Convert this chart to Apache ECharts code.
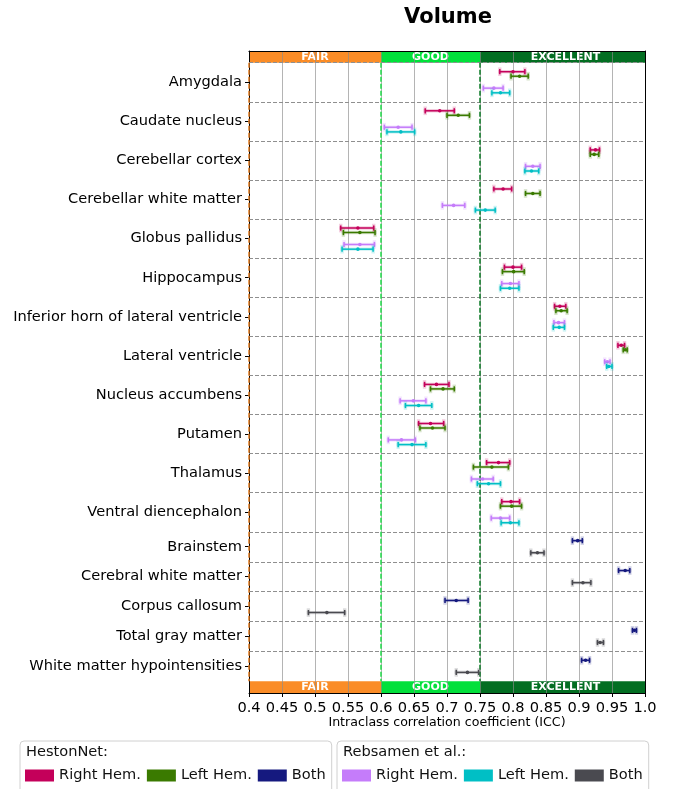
<!DOCTYPE html>
<html>
<head>
<meta charset="utf-8">
<script src="https://cdn.jsdelivr.net/npm/echarts@6/dist/echarts.min.js"></script>
<style>
  html, body { margin: 0; padding: 0; background: #fff; }
  #chart { width: 678px; height: 789px; }
</style>
</head>
<body>
<div id="chart"></div>
<script>
// Structures measured per hemisphere
const hemisphereRegions = [
  'Amygdala', 'Caudate nucleus', 'Cerebellar cortex', 'Cerebellar white matter',
  'Globus pallidus', 'Hippocampus', 'Inferior horn of lateral ventricle',
  'Lateral ventricle', 'Nucleus accumbens', 'Putamen', 'Thalamus', 'Ventral diencephalon'
];
// Structures measured for the whole brain
const wholeBrainRegions = [
  'Brainstem', 'Cerebral white matter', 'Corpus callosum', 'Total gray matter',
  'White matter hypointensities'
];

// ICC values as [lower bound, ICC, upper bound]
const hestonRightHem = [
  [0.780, 0.800, 0.818], [0.667, 0.689, 0.711], [0.917, 0.925, 0.931], [0.771, 0.785, 0.798],
  [0.539, 0.565, 0.589], [0.787, 0.800, 0.813], [0.863, 0.871, 0.880], [0.959, 0.964, 0.969],
  [0.666, 0.684, 0.703], [0.657, 0.675, 0.695], [0.760, 0.778, 0.795], [0.783, 0.797, 0.810]
];
const hestonLeftHem = [
  [0.797, 0.810, 0.823], [0.700, 0.717, 0.734], [0.917, 0.923, 0.930], [0.819, 0.830, 0.841],
  [0.543, 0.568, 0.591], [0.784, 0.801, 0.817], [0.865, 0.873, 0.882], [0.967, 0.970, 0.973],
  [0.675, 0.694, 0.711], [0.659, 0.678, 0.697], [0.740, 0.768, 0.793], [0.781, 0.798, 0.813]
];
const rebsamenRightHem = [
  [0.755, 0.771, 0.785], [0.605, 0.626, 0.647], [0.819, 0.830, 0.841], [0.693, 0.710, 0.727],
  [0.544, 0.568, 0.590], [0.783, 0.796, 0.809], [0.862, 0.869, 0.878], [0.939, 0.943, 0.947],
  [0.629, 0.649, 0.668], [0.611, 0.631, 0.652], [0.737, 0.754, 0.770], [0.767, 0.781, 0.795]
];
const rebsamenLeftHem = [
  [0.768, 0.781, 0.795], [0.609, 0.630, 0.651], [0.818, 0.828, 0.839], [0.743, 0.758, 0.773],
  [0.541, 0.565, 0.588], [0.781, 0.795, 0.809], [0.861, 0.870, 0.878], [0.942, 0.945, 0.950],
  [0.637, 0.657, 0.677], [0.626, 0.647, 0.668], [0.746, 0.763, 0.781], [0.782, 0.796, 0.809]
];
const hestonBoth = [
  [0.890, 0.898, 0.905], [0.960, 0.970, 0.977], [0.697, 0.714, 0.732],
  [0.981, 0.984, 0.987], [0.904, 0.910, 0.916]
];
const rebsamenBoth = [
  [0.827, 0.837, 0.847], [0.890, 0.906, 0.918], [0.490, 0.518, 0.545],
  [0.928, 0.932, 0.937], [0.714, 0.731, 0.748]
];

const xTickLabels = ['0.4', '0.45', '0.5', '0.55', '0.6', '0.65', '0.7', '0.75',
                     '0.8', '0.85', '0.9', '0.95', '1.0'];
const ratingBands = [
  { name: 'FAIR', from: 0.4, to: 0.6 },
  { name: 'GOOD', from: 0.6, to: 0.75 },
  { name: 'EXCELLENT', from: 0.75, to: 1.0 }
];
const thresholds = [0.4, 0.6, 0.75];

// ---- vertical layout (y axis units; one hemisphere block = 1) ----
const FONT = 'DejaVu Sans';
const BAND_H = 0.3;
const BOTH_H = 0.765;
const nHem = hemisphereRegions.length;
const nBoth = wholeBrainRegions.length;
const Y_MAX = BAND_H * 2 + nHem + nBoth * BOTH_H;
const allRegions = hemisphereRegions.concat(wholeBrainRegions);

function blockTop(i) {
  return i < nHem ? BAND_H + i : BAND_H + nHem + (i - nHem) * BOTH_H;
}
function blockHeight(i) { return i < nHem ? 1 : BOTH_H; }
function blockCenter(i) { return blockTop(i) + blockHeight(i) / 2; }

const centers = allRegions.map((_, i) => blockCenter(i));
const boundaries = allRegions.map((_, i) => blockTop(i));

const HEM_OFFSETS = [-0.27, -0.155, 0.15, 0.27];
const BOTH_OFFSETS = [-0.155, 0.155];

function placeHem(values, slot) {
  return values.map((v, i) => [v[0], v[1], v[2], blockCenter(i) + HEM_OFFSETS[slot]]);
}
function placeBoth(values, slot) {
  return values.map((v, i) => [v[0], v[1], v[2], blockCenter(nHem + i) + BOTH_OFFSETS[slot]]);
}

const COLORS = {
  hRight: '#c4005a', hLeft: '#3a7a00', hBoth: '#15197f',
  rRight: '#c57cfa', rLeft: '#00bfc5', rBoth: '#4a4a50'
};

function renderErrorBar(params, api) {
  const y = api.value(3);
  const lo = api.coord([api.value(0), y]);
  const mid = api.coord([api.value(1), y]);
  const hi = api.coord([api.value(2), y]);
  const color = api.visual('color');
  const cap = 2.6;
  const segs = [
    [lo[0], lo[1], hi[0], hi[1]],
    [lo[0], lo[1] - cap, lo[0], lo[1] + cap],
    [hi[0], hi[1] - cap, hi[0], hi[1] + cap]
  ];
  const children = [];
  segs.forEach(s => children.push({
    type: 'line', shape: { x1: s[0], y1: s[1], x2: s[2], y2: s[3] },
    style: { stroke: color, lineWidth: 3.4, opacity: 0.2, lineCap: 'square' }
  }));
  segs.forEach(s => children.push({
    type: 'line', shape: { x1: s[0], y1: s[1], x2: s[2], y2: s[3] },
    style: { stroke: color, lineWidth: 1.5 }
  }));
  children.push({
    type: 'circle', shape: { cx: mid[0], cy: mid[1], r: 1.8 },
    style: { fill: color }
  });
  return { type: 'group', children };
}

function barSeries(name, color, data) {
  return {
    name, type: 'custom', z: 5,
    itemStyle: { color },
    renderItem: renderErrorBar,
    encode: { x: [0, 1, 2], y: 3 },
    data
  };
}

// Rating band rectangles at the top and bottom of the plot
const bandData = [];
ratingBands.forEach((b, k) => {
  bandData.push([b.from, b.to, 0, BAND_H, k]);
  bandData.push([b.from, b.to, Y_MAX - BAND_H, Y_MAX, k]);
});
const BAND_COLORS = ['#fa8c27', '#02e03b', '#036e22'];

function renderBand(params, api) {
  const p0 = api.coord([api.value(0), api.value(2)]);
  const p1 = api.coord([api.value(1), api.value(3)]);
  const k = api.value(4);
  return {
    type: 'group',
    children: [
      {
        type: 'rect',
        shape: { x: p0[0], y: p0[1], width: p1[0] - p0[0], height: p1[1] - p0[1] },
        style: { fill: BAND_COLORS[k] }
      },
      {
        type: 'text',
        x: (p0[0] + p1[0]) / 2 + (k === 2 ? 3 : 0), y: (p0[1] + p1[1]) / 2 + 0.5,
        style: {
          text: ratingBands[k].name, fill: '#fff', fontFamily: FONT,
          fontWeight: 'bold', fontSize: 11, align: 'center', verticalAlign: 'middle'
        }
      }
    ]
  };
}

const chart = echarts.init(document.getElementById('chart'), null, { renderer: 'canvas' });

const legendText = { fontFamily: FONT, fontSize: 14.6, color: '#111' };
const legendCommon = {
  orient: 'horizontal', top: 741, icon: 'rect', itemWidth: 29, itemHeight: 12,
  itemGap: 6, selectedMode: false, borderColor: '#d0d0d0', borderWidth: 1,
  borderRadius: 4, padding: [27, 6, 12, 5], textStyle: legendText,
  formatter: name => name.split(': ')[1]
};

chart.setOption({
  animation: false,
  backgroundColor: '#fff',
  title: {
    text: 'Volume', left: 443, top: 2, textAlign: 'center',
    textStyle: { fontFamily: FONT, fontWeight: 'bold', fontSize: 21, color: '#000' }
  },
  grid: { left: 249, right: 33, top: 51, bottom: 96 },
  legend: [
    Object.assign({}, legendCommon, {
      left: 20,
      data: ['HestonNet: Right Hem.', 'HestonNet: Left Hem.', 'HestonNet: Both']
    }),
    Object.assign({}, legendCommon, {
      left: 337,
      data: ['Rebsamen et al.: Right Hem.', 'Rebsamen et al.: Left Hem.', 'Rebsamen et al.: Both']
    })
  ],
  graphic: [
    { type: 'text', left: 26, top: 745, style: { text: 'HestonNet:', fontFamily: FONT, fontSize: 14.6, fill: '#111' } },
    { type: 'text', left: 343, top: 745, style: { text: 'Rebsamen et al.:', fontFamily: FONT, fontSize: 14.6, fill: '#111' } }
  ],
  xAxis: [
    {
      type: 'value', min: 0.4, max: 1.0, interval: 0.05, z: 3,
      axisLine: { show: true, onZero: false, lineStyle: { color: '#000', width: 1 } },
      axisTick: { show: true, length: 4, lineStyle: { color: '#000' } },
      axisLabel: {
        fontFamily: FONT, fontSize: 14.6, color: '#000', margin: 8,
        formatter: v => xTickLabels[Math.round((v - 0.4) / 0.05)]
      },
      splitLine: { show: true, lineStyle: { color: 'rgba(140,140,140,0.65)', width: 1 } },
      name: 'Intraclass correlation coefficient (ICC)', nameLocation: 'middle', nameGap: 23,
      nameMoveOverlap: false,
      nameTextStyle: { fontFamily: FONT, fontSize: 12.6, color: '#000' }
    },
    {
      type: 'value', position: 'top', min: 0.4, max: 1.0, z: 3,
      axisLine: { show: true, onZero: false, lineStyle: { color: '#000', width: 1.2 } },
      axisTick: { show: false }, axisLabel: { show: false }, splitLine: { show: false }
    }
  ],
  yAxis: [
    {
      type: 'value', inverse: true, min: 0, max: Y_MAX, z: 3,
      axisLine: { show: true, onZero: false, lineStyle: { color: '#000', width: 1 } },
      axisTick: { show: true, length: 4, customValues: centers, lineStyle: { color: '#000' } },
      axisLabel: {
        customValues: centers, margin: 7, padding: [4, 0, 0, 0],
        fontFamily: FONT, fontSize: 14.6, color: '#000',
        formatter: v => {
          let best = 0;
          centers.forEach((c, i) => { if (Math.abs(c - v) < Math.abs(centers[best] - v)) best = i; });
          return allRegions[best];
        }
      },
      splitLine: { show: false }
    },
    {
      type: 'value', position: 'right', inverse: true, min: 0, max: Y_MAX, z: 3,
      axisLine: { show: true, onZero: false, lineStyle: { color: '#000', width: 1 } },
      axisTick: { show: false }, axisLabel: { show: false }, splitLine: { show: false }
    }
  ],
  series: [
    {
      name: 'bands', type: 'custom', z: 1,
      renderItem: renderBand, encode: { x: [0, 1], y: [2, 3] },
      data: bandData, silent: true
    },
    {
      name: 'guides', type: 'custom', z: 4, silent: true,
      renderItem: () => ({ type: 'group', children: [] }),
      data: [],
      markLine: {
        silent: true, symbol: 'none', label: { show: false },
        animation: false,
        data: boundaries.map(b => ({
          yAxis: b,
          lineStyle: { color: '#8f8f8f', type: [4, 2], width: 1 }
        })).concat(thresholds.map((t, k) => [
          { coord: [t, BAND_H], lineStyle: { color: ['#e07b20', '#1fdc48', '#0a7a25'][k], type: [5, 2], width: 1.5 } },
          { coord: [t, Y_MAX - BAND_H] }
        ]))
      }
    },
    barSeries('HestonNet: Right Hem.', COLORS.hRight, placeHem(hestonRightHem, 0)),
    barSeries('HestonNet: Left Hem.', COLORS.hLeft, placeHem(hestonLeftHem, 1)),
    barSeries('Rebsamen et al.: Right Hem.', COLORS.rRight, placeHem(rebsamenRightHem, 2)),
    barSeries('Rebsamen et al.: Left Hem.', COLORS.rLeft, placeHem(rebsamenLeftHem, 3)),
    barSeries('HestonNet: Both', COLORS.hBoth, placeBoth(hestonBoth, 0)),
    barSeries('Rebsamen et al.: Both', COLORS.rBoth, placeBoth(rebsamenBoth, 1))
  ]
});
</script>
</body>
</html>
